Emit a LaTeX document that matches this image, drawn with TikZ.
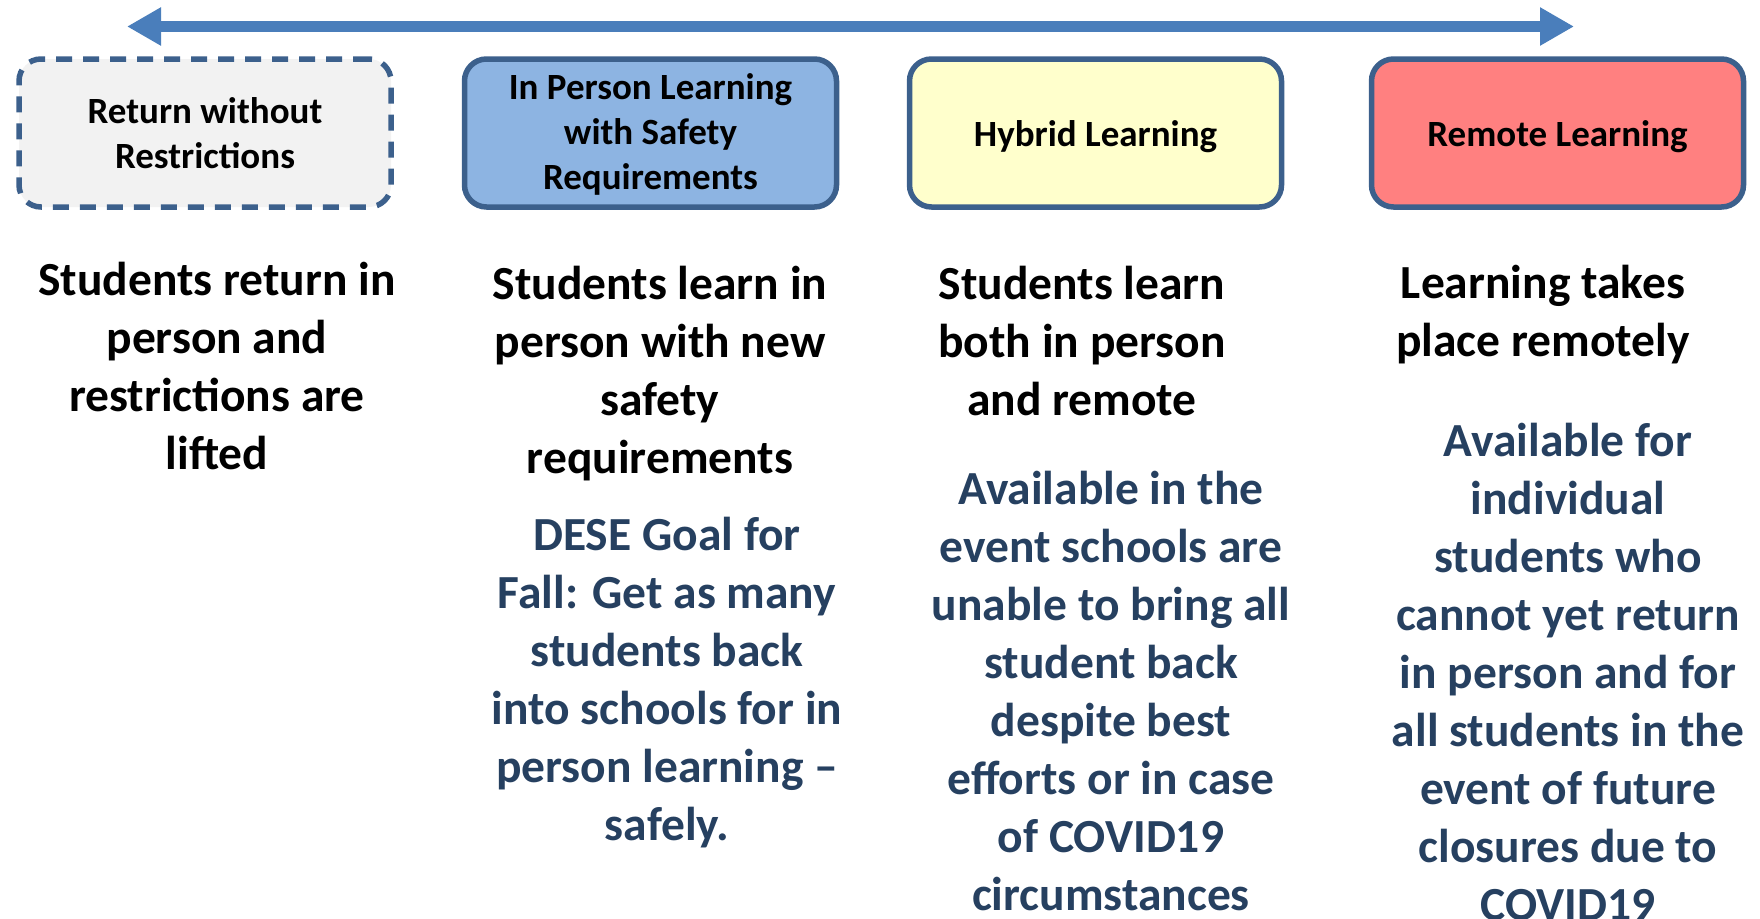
\documentclass[tikz,border=0pt]{standalone}
\usepackage{fontspec}
\setmainfont{Carlito}
\usetikzlibrary{arrows.meta}
\definecolor{arrowblue}{RGB}{74,126,187}
\definecolor{edgeblue}{RGB}{60,96,140}
\definecolor{navytext}{RGB}{38,64,96}
\definecolor{greyfill}{RGB}{242,242,242}
\definecolor{bluefill}{RGB}{141,180,226}
\definecolor{yellowfill}{RGB}{255,255,204}
\definecolor{redfill}{RGB}{255,128,128}
\tikzset{
  stagebox/.style={draw=edgeblue, line width=5.5pt, rounded corners=22pt,
    minimum width=372pt, minimum height=148pt, inner sep=0pt},
  boxlabel/.style={align=center, inner sep=0pt,
    font=\bfseries\fontsize{37}{45}\selectfont},
  bodytext/.style={align=center, inner sep=0pt, font=\bfseries\fontsize{47.5}{58}\selectfont},
  notetext/.style={bodytext, text=navytext},
}
\begin{document}
\begin{tikzpicture}[x=1pt,y=-1pt]
\useasboundingbox (0,0) rectangle (1760,918);
\coordinate (aL) at (127,26.5);
\coordinate (aR) at (1574,26.5);
\draw[arrowblue, line width=10.5pt, {Triangle[length=34pt,width=36pt]}-{Triangle[length=34pt,width=36pt]}] (aL) -- (aR);

\node[stagebox, fill=greyfill, dash pattern=on 16pt off 11pt] (b1) at (205,133) {};
\node[stagebox, fill=bluefill] (b2) at (650.5,133) {};
\node[stagebox, fill=yellowfill] (b3) at (1095.5,133) {};
\node[stagebox, fill=redfill] (b4) at (1557.5,133) {};
\node[boxlabel] (l1) at ([yshift=0pt]b1.center) {Return without\\Restrictions};
\node[boxlabel] (l2) at ([yshift=-1.5pt]b2.center) {In Person Learning\\with Safety\\Requirements};
\node[boxlabel] (l3) at ([yshift=-4pt]b3.center) {Hybrid Learning};
\node[boxlabel] (l4) at ([yshift=-4pt]b4.center) {Remote Learning};

\node[bodytext] (t1) at (217,366) {Students return in\\person and\\restrictions are\\lifted};
\node[bodytext] (t2) at (660,373.5) {Students learn in\\person with new\\safety\\requirements};
\node[bodytext] (t3) at (1082,341.5) {Students learn\\both in person\\and remote};
\node[bodytext] (t4) at (1543,315) {Learning takes\\place remotely};

\node[notetext] (n2) at (667,683) {DESE Goal for\\Fall: Get as many\\students back\\into schools for in\\person learning --\\safely.};
\node[notetext] (n3) at (1111,691) {Available in the\\event schools are\\unable to bring all\\student back\\despite best\\efforts or in case\\of COVID19\\circumstances};
\node[notetext] (n4) at (1568,672) {Available for\\individual\\students who\\cannot yet return\\in person and for\\all students in the\\event of future\\closures due to\\COVID19};
\end{tikzpicture}
\end{document}
